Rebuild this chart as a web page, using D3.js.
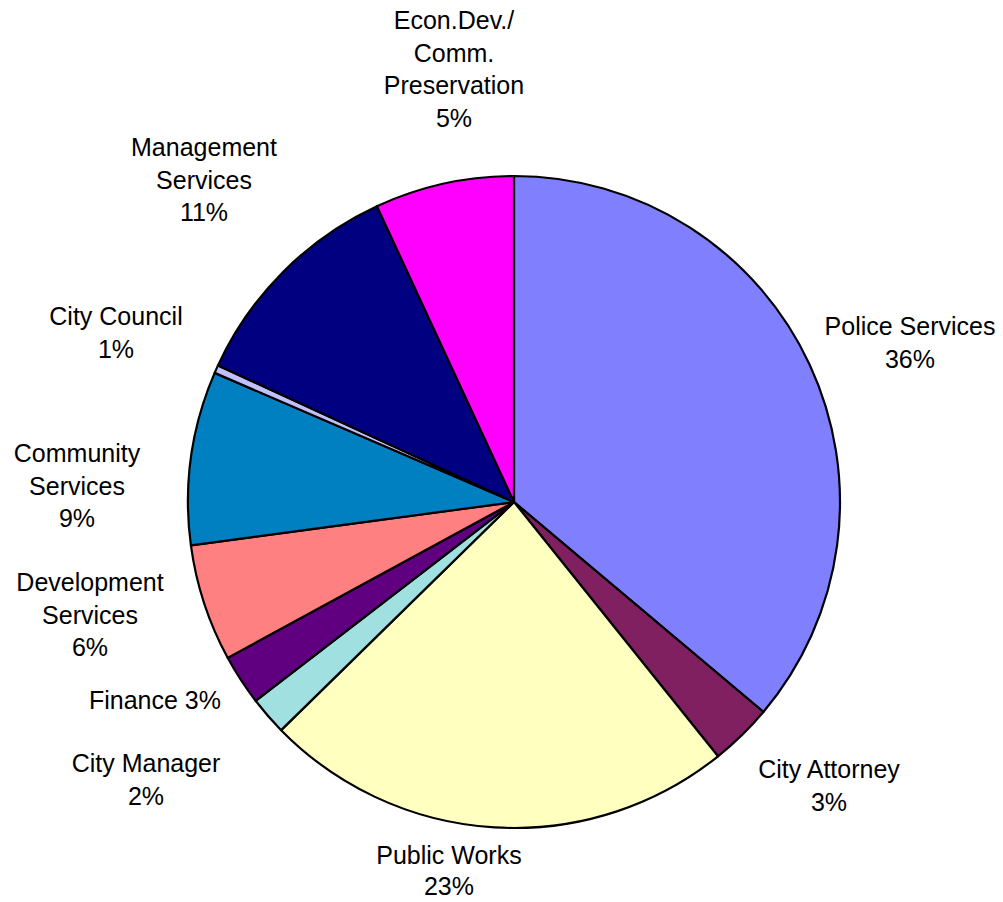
<!DOCTYPE html>
<html>
<head>
<meta charset="utf-8">
<script src="https://cdn.jsdelivr.net/npm/d3@7"></script>
<style>
  html, body { margin: 0; padding: 0; background: #fff; }
  svg { display: block; }
  text { font-family: "Liberation Sans", Arial, sans-serif; font-size: 25px; fill: #000; }
</style>
</head>
<body>
<script>
// ---- data ----
const categories = ["Police Services", "City Attorney", "Public Works", "City Manager", "Finance",
  "Development Services", "Community Services", "City Council", "Management Services",
  "Econ.Dev./ Comm. Preservation"];
const values = [36.1, 3.1, 23.4, 1.9, 2.5, 5.8, 8.6, 0.4, 11.2, 6.9];
const percentLabels = ["36%", "3%", "23%", "2%", "3%", "6%", "9%", "1%", "11%", "5%"];
const labelLines = [
  ["Police Services", "36%"],
  ["City Attorney", "3%"],
  ["Public Works", "23%"],
  ["City Manager", "2%"],
  ["Finance 3%"],
  ["Development", "Services", "6%"],
  ["Community", "Services", "9%"],
  ["City Council", "1%"],
  ["Management", "Services", "11%"],
  ["Econ.Dev./", "Comm.", "Preservation", "5%"]
];
const colors = ["#8080FF", "#802060", "#FFFFC0", "#A0E0E0", "#600080",
  "#FF8080", "#0080C0", "#C0C0FF", "#000080", "#FF00FF"];

// ---- layout ----
const W = 1003, H = 902;
const cx = 514, cy = 502, R = 326;
const lineH = 32.5;
// label anchor: center x, first baseline y
const labelPos = [
  [910, 335], [829, 778], [449, 864], [146, 772], [155, 709],
  [90, 591], [77, 462], [116, 325], [204, 156], [454, 29]
];
const labelLineH = [32.5, 32.5, 31, 32.5, 32.5, 32.5, 32.5, 32.5, 32.5, 32.5];

const svg = d3.select("body").append("svg").attr("width", W).attr("height", H);

const pie = d3.pie().sort(null).value(d => d)(values);
const arc = d3.arc().innerRadius(0).outerRadius(R);

const g = svg.append("g").attr("transform", `translate(${cx},${cy})`);
g.selectAll("path").data(pie).enter().append("path")
  .attr("d", arc)
  .attr("fill", (d, i) => colors[i])
  .attr("stroke", "#000")
  .attr("stroke-width", 2.2)
  .attr("stroke-linejoin", "round");

const lg = svg.append("g");
labelLines.forEach((lines, i) => {
  const t = lg.append("text")
    .attr("text-anchor", "middle")
    .attr("x", labelPos[i][0])
    .attr("y", labelPos[i][1]);
  lines.forEach((ln, j) => {
    t.append("tspan").attr("x", labelPos[i][0]).attr("y", labelPos[i][1] + j * labelLineH[i]).text(ln);
  });
});
</script>
</body>
</html>
